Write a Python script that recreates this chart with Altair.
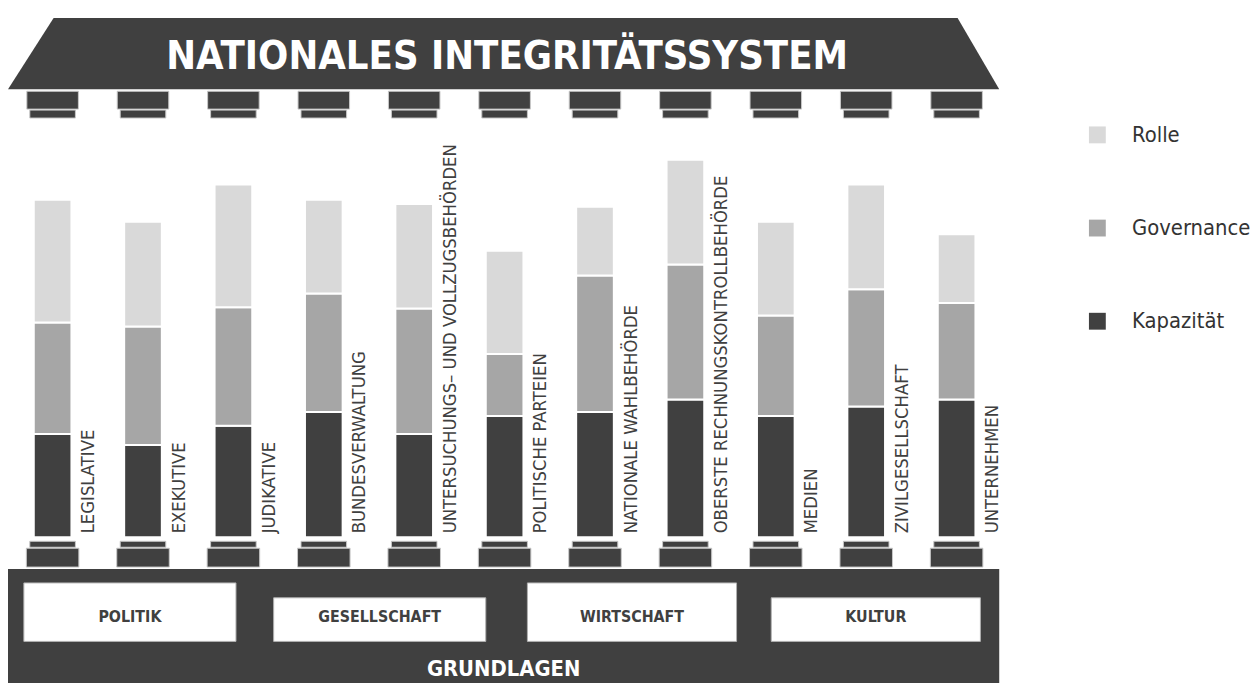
import altair as alt
import pandas as pd

# ---------------- data ----------------
PILLARS = [
    "LEGISLATIVE", "EXEKUTIVE", "JUDIKATIVE", "BUNDESVERWALTUNG",
    "UNTERSUCHUNGS– UND VOLLZUGSBEHÖRDEN", "POLITISCHE PARTEIEN",
    "NATIONALE WAHLBEHÖRDE", "OBERSTE RECHNUNGSKONTROLLBEHÖRDE",
    "MEDIEN", "ZIVILGESELLSCHAFT", "UNTERNEHMEN",
]
KAPAZITAET = [75, 67, 81, 91, 75, 88, 91, 100, 88, 95, 100]
GOVERNANCE = [81, 86, 86, 86, 91, 45, 99, 98, 73, 85, 70]
ROLLE = [89, 76, 89, 68, 76, 75, 50, 76, 68, 76, 50]
DIMENSIONS = ["Rolle", "Governance", "Kapazität"]
FOUNDATIONS = ["POLITIK", "GESELLSCHAFT", "WIRTSCHAFT", "KULTUR"]
TITLE = "NATIONALES INTEGRITÄTSSYSTEM"
BASE_LABEL = "GRUNDLAGEN"

# ---------------- styles / layout ----------------
COLORS = ["#d9d9d9", "#a6a6a6", "#404040"]
DARK = "#404040"
NARROW = "DejaVu Sans Condensed, DejaVu Sans, sans-serif"
W, H = 1000, 680
SLOT = 91.2          # px between pillar centres
C5 = 501             # plot x of the middle pillar
XLO = 5 - C5 / SLOT
XHI = XLO + W / SLOT
PXU = 1.39           # px per score point
BASE = 531           # plot y of score 0
YLO = -(H - BASE) / PXU
YHI = BASE / PXU

xs = alt.Scale(domain=[XLO, XHI], nice=False, zero=False)
ys = alt.Scale(domain=[YLO, YHI], nice=False, zero=False)


def ux(px):
    return XLO + px / SLOT


def uy(py):
    return (BASE - py) / PXU


pillar_df = pd.DataFrame({"pos": list(range(len(PILLARS))), "label": PILLARS})

rows = []
for i in range(len(PILLARS)):
    rows.append({"pos": i, "dim": "Kapazität", "ord": 0, "score": KAPAZITAET[i]})
    rows.append({"pos": i, "dim": "Governance", "ord": 1, "score": GOVERNANCE[i]})
    rows.append({"pos": i, "dim": "Rolle", "ord": 2, "score": ROLLE[i]})
seg_df = pd.DataFrame(rows)

one = pd.DataFrame({"k": [0]})

# roof
roof_df = pd.DataFrame({
    "x": [ux(0), ux(46), ux(958), ux(1000)],
    "yt": [uy(79), uy(7), uy(7), uy(79)],
    "yb": [uy(79)] * 4,
})
roof = alt.Chart(roof_df).mark_area(fill=DARK).encode(
    x=alt.X("x:Q", scale=xs, axis=None),
    y=alt.Y("yt:Q", scale=ys, axis=None),
    y2="yb:Q",
)

title = alt.Chart(one).mark_text(
    text=TITLE, font=NARROW, fontSize=40, fontWeight="bold", color="white",
    align="center", baseline="alphabetic",
).encode(x=alt.value(503.5), y=alt.value(59))


def pillar_rect(half_px, top, bottom):
    return alt.Chart(pillar_df).transform_calculate(
        xl=f"datum.pos - {half_px / SLOT}",
        xr=f"datum.pos + {half_px / SLOT}",
    ).mark_rect(fill=DARK, stroke="#c8c8c8", strokeWidth=1).encode(
        x=alt.X("xl:Q", scale=xs, axis=None),
        x2="xr:Q",
        y=alt.value(top),
        y2=alt.value(bottom),
    )


cap_top = pillar_rect(26, 81, 99)
cap_low = pillar_rect(23, 100, 108)
plinth_top = pillar_rect(23, 535, 541)
plinth_low = pillar_rect(26.5, 542, 561)

hw = 19 / SLOT
bars = alt.Chart(seg_df).transform_stack(
    stack="score", groupby=["pos"], sort=[alt.SortField("ord", order="ascending")],
    as_=["y0", "y1"],
).transform_calculate(
    xl=f"datum.pos - {hw}", xr=f"datum.pos + {hw}"
).mark_rect(stroke="white", strokeWidth=2).encode(
    x=alt.X("xl:Q", scale=xs, axis=None),
    x2="xr:Q",
    y=alt.Y("y1:Q", scale=ys, axis=None),
    y2="y0:Q",
    color=alt.Color(
        "dim:N",
        scale=alt.Scale(domain=DIMENSIONS, range=COLORS),
        title=None,
        legend=alt.Legend(
            orient="none", legendX=1088, legendY=114, symbolType="square",
            symbolSize=289, symbolStrokeWidth=0, labelFont=NARROW,
            labelFontSize=22, labelColor="#333333", labelOffset=24,
            rowPadding=72, padding=0, labelLimit=400,
        ),
    ),
)

labels = alt.Chart(pillar_df).transform_calculate(
    lx=f"datum.pos + {42 / SLOT}"
).mark_text(
    angle=270, align="left", baseline="alphabetic", font=NARROW,
    fontSize=18.5, color=DARK,
).encode(
    x=alt.X("lx:Q", scale=xs, axis=None),
    y=alt.value(527),
    text="label:N",
)

foundation = alt.Chart(one).mark_rect(fill=DARK).encode(
    x=alt.value(0), x2=alt.value(1000), y=alt.value(563), y2=alt.value(678)
)

BOX_L = [24, 276, 532, 778]
BOX_R = [238, 490, 743, 989]
BOX_T = [585, 600, 585, 600]
BOX_B = 644
box_df = pd.DataFrame({
    "name": FOUNDATIONS,
    "xl": [ux(v - 8) for v in BOX_L],
    "xr": [ux(v - 8) for v in BOX_R],
    "xc": [ux((a + b) / 2 - 8) for a, b in zip(BOX_L, BOX_R)],
    "yt": [uy(v - 8) for v in BOX_T],
    "yb": [uy(BOX_B - 8)] * 4,
})
boxes = alt.Chart(box_df).mark_rect(fill="white", stroke="#b0b0b0", strokeWidth=1).encode(
    x=alt.X("xl:Q", scale=xs, axis=None),
    x2="xr:Q",
    y=alt.Y("yt:Q", scale=ys, axis=None),
    y2="yb:Q",
)
box_text = alt.Chart(box_df).mark_text(
    font=NARROW, fontSize=16, fontWeight="bold", color=DARK,
    align="center", baseline="middle",
).encode(
    x=alt.X("xc:Q", scale=xs, axis=None),
    y=alt.value(611),
    text="name:N",
)

grund = alt.Chart(one).mark_text(
    text=BASE_LABEL, font=NARROW, fontSize=22, fontWeight="bold", color="white",
    align="center", baseline="alphabetic",
).encode(x=alt.value(500), y=alt.value(671))

chart = alt.layer(
    roof, title, cap_top, cap_low, bars, labels, plinth_top, plinth_low,
    foundation, boxes, box_text, grund,
).properties(width=W, height=H, padding=0).configure_view(stroke="transparent")

chart.save("out.html", embed_options={"renderer": "svg", "actions": False})
